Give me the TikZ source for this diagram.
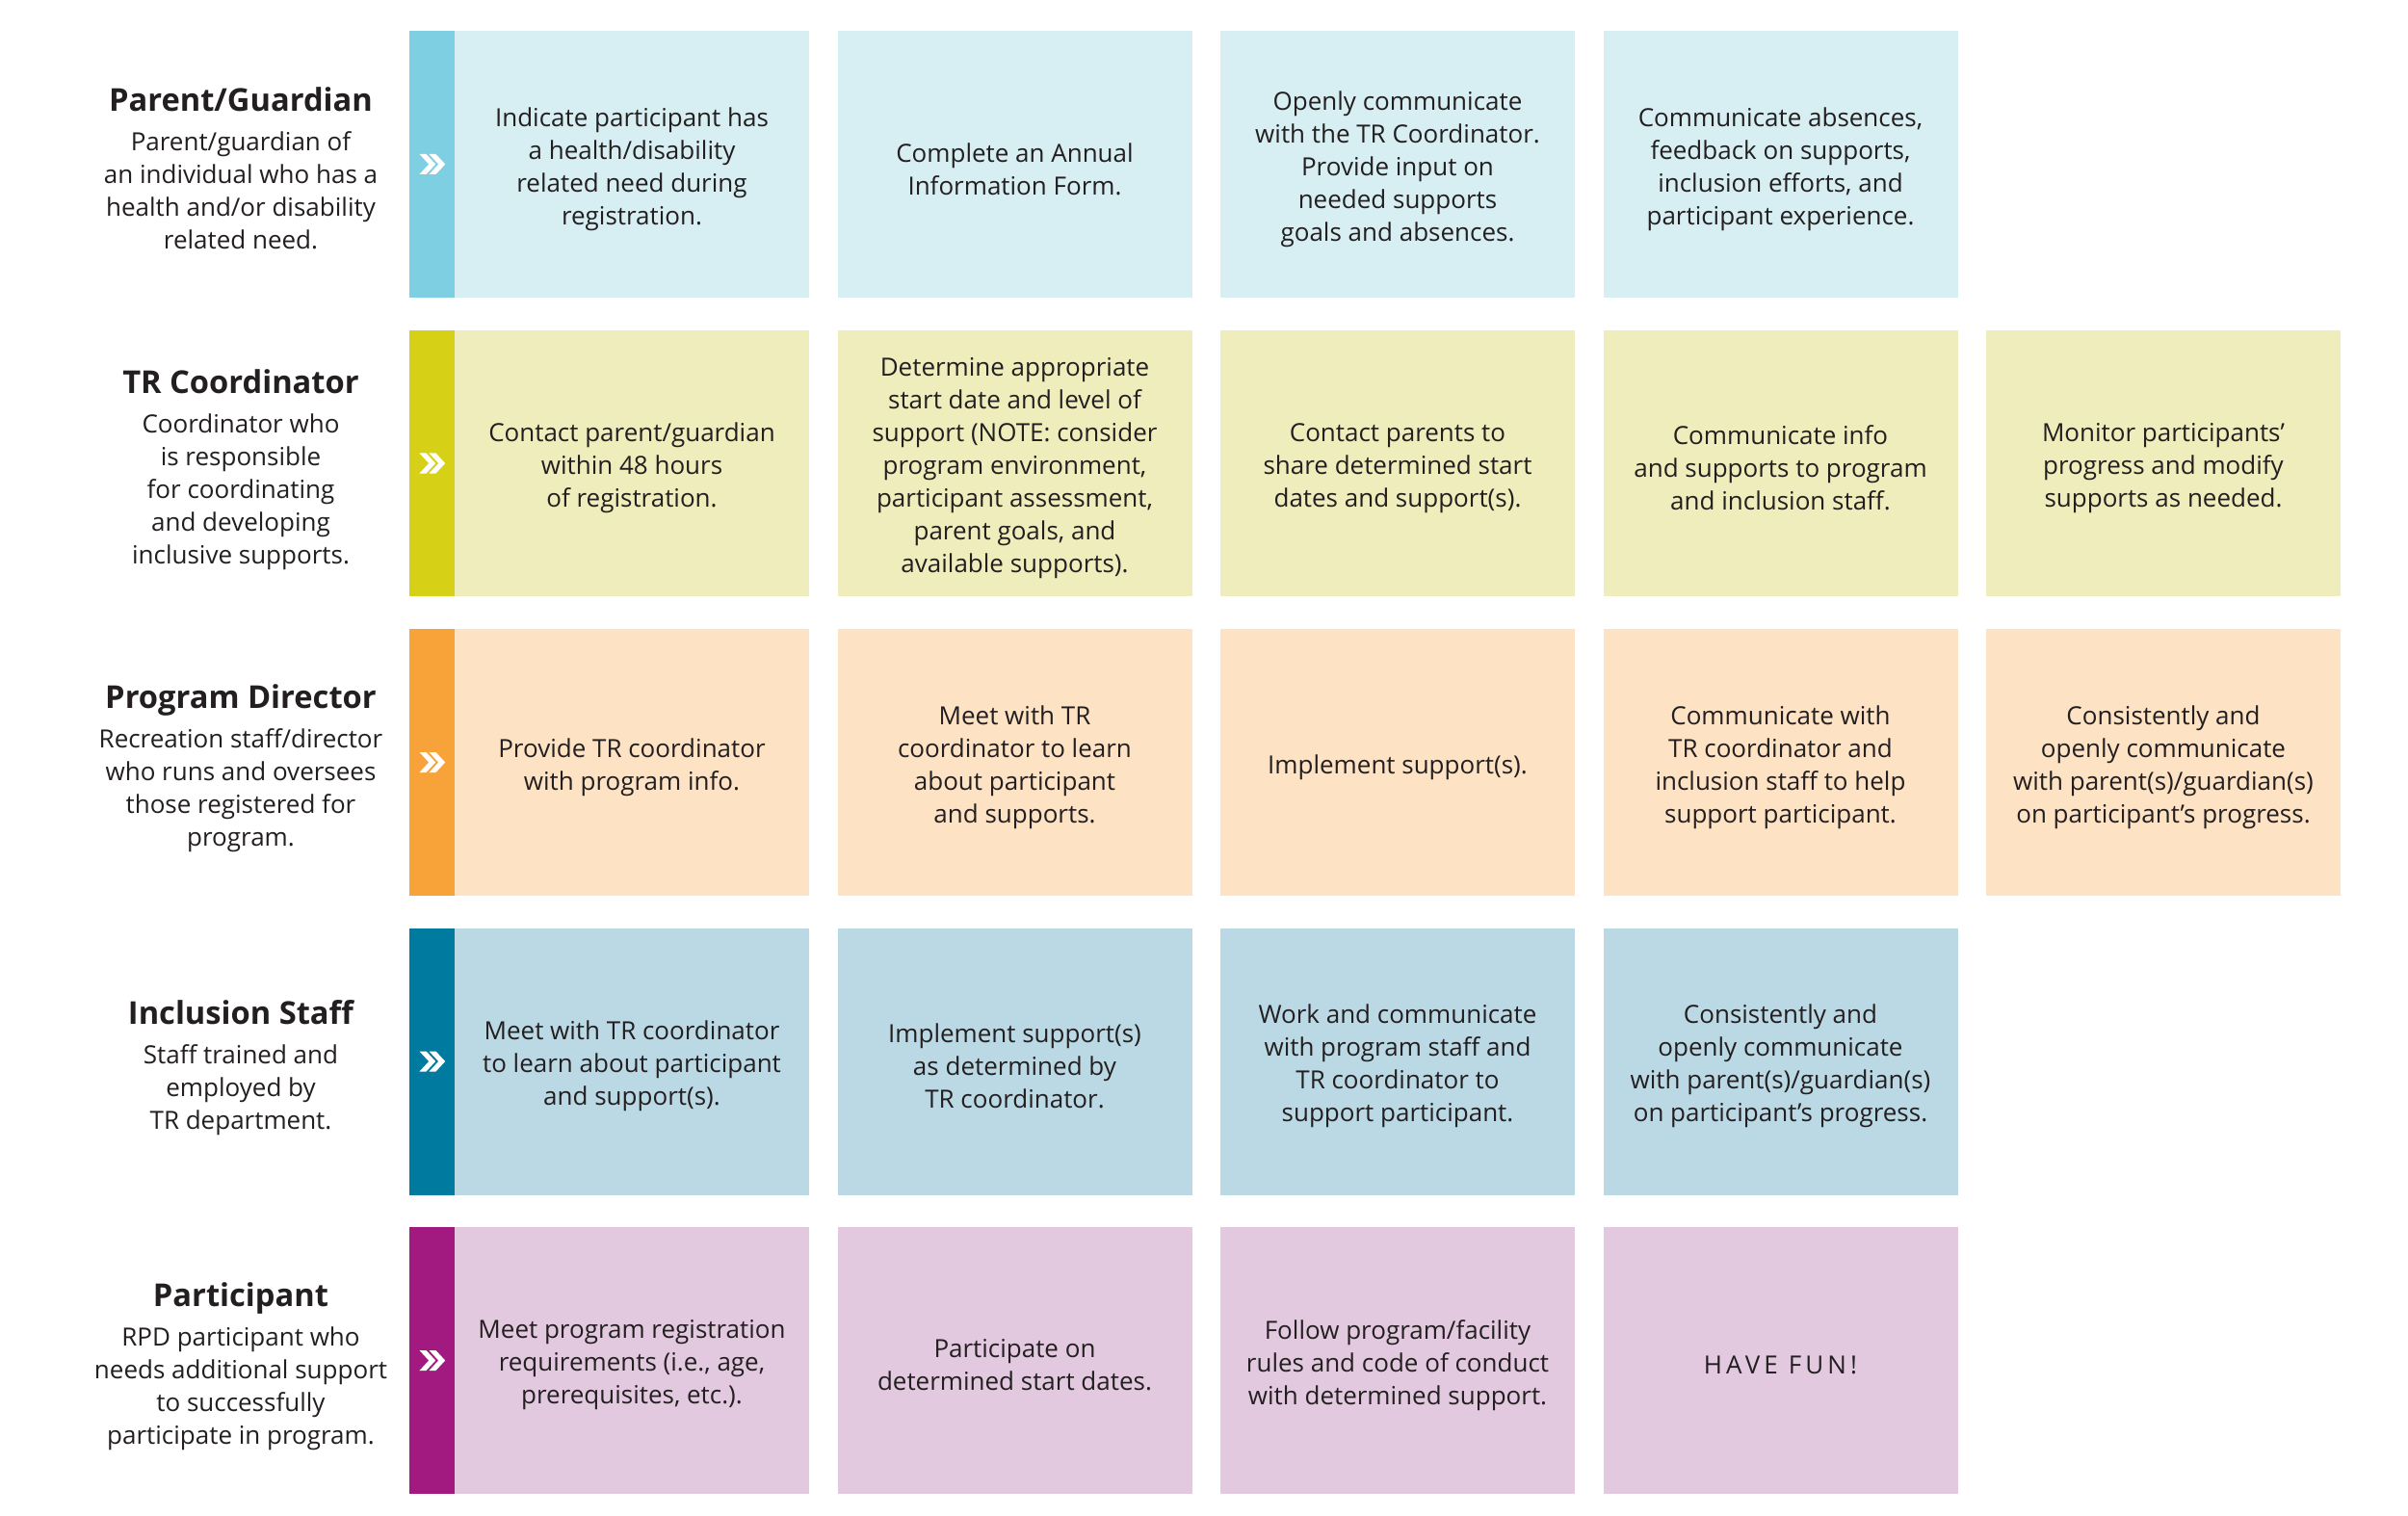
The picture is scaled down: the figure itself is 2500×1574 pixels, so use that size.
\documentclass[tikz,border=0pt]{standalone}
\usepackage{fontspec}
\setmainfont{Open Sans}
\definecolor{txt}{HTML}{231F20}
\definecolor{sA}{HTML}{7FCFE2}\definecolor{bA}{HTML}{D7EFF3}
\definecolor{sB}{HTML}{D6D116}\definecolor{bB}{HTML}{EEEDBB}
\definecolor{sC}{HTML}{F8A23A}\definecolor{bC}{HTML}{FDE2C4}
\definecolor{sD}{HTML}{007A9E}\definecolor{bD}{HTML}{BBD9E5}
\definecolor{sE}{HTML}{A21A80}\definecolor{bE}{HTML}{E2C9DF}
\newcommand{\chevs}[1]{%
  \fill[white,shift={(#1)}] (-13,-10.5) -- (-6,-10.5) -- (3.7,0) -- (-6,10.5) -- (-13,10.5) -- (-3.3,0) -- cycle;
  \fill[white,shift={(#1)}] (-3,-10.5) -- (4,-10.5) -- (13.7,0) -- (4,10.5) -- (-3,10.5) -- (6.7,0) -- cycle;}
\newcommand{\ttl}[1]{{\fontsize{9.8}{12}\selectfont\bfseries #1}}
\begin{document}
\begin{tikzpicture}[x=0.3pt,y=-0.3pt,
  box/.style={inner sep=0pt,minimum width=110.4pt,minimum height=83.1pt,align=center,text=txt,
    font=\fontsize{7.8}{10.2}\selectfont},
  boxtext/.style={align=center,text=txt,inner sep=0pt,font=\fontsize{7.8}{10.2}\selectfont},
  stripe/.style={inner sep=0pt,minimum width=14.1pt,minimum height=83.1pt},
  label/.style={align=center,text=txt,inner sep=0pt,font=\fontsize{7.8}{10.2}\selectfont}]
\useasboundingbox (0,0) rectangle (2500,1574);
\fill[white] (0,0) rectangle (2500,1574);

% ---------- Row 1: Parent/Guardian ----------
\node[label] (l1) at (250,174.5) {\ttl{Parent/Guardian}\\[2pt]
Parent/guardian of\\an individual who has a\\health and/or disability\\related need.};
\node[stripe,fill=sA] (s1) at (448.5,170.5) {};
\chevs{s1.center}
\node[box,fill=bA] (b11) at (656,170.5) {};
\node[boxtext] at ([yshift=-1.5pt]b11.center) {Indicate participant has\\a health/disability\\related need during\\registration.};
\node[box,fill=bA] (b12) at (1053.5,170.5) {};
\node[boxtext] at ([yshift=-1.5pt]b12.center) {Complete an Annual\\Information Form.};
\node[box,fill=bA] (b13) at (1451,170.5) {};
\node[boxtext] at ([yshift=-1.5pt]b13.center) {Openly communicate\\with the TR Coordinator.\\Provide input on\\needed supports\\goals and absences.};
\node[box,fill=bA] (b14) at (1848.5,170.5) {};
\node[boxtext] at ([yshift=-1.5pt]b14.center) {Communicate absences,\\feedback on supports,\\inclusion efforts, and\\participant experience.};

% ---------- Row 2: TR Coordinator ----------
\node[label] (l2) at (250,487.5) {\ttl{TR Coordinator}\\[2pt]
Coordinator who\\is responsible\\for coordinating\\and developing\\inclusive supports.};
\node[stripe,fill=sB] (s2) at (448.5,481) {};
\chevs{s2.center}
\node[box,fill=bB] (b21) at (656,481) {};
\node[boxtext] at ([yshift=-1.5pt]b21.center) {Contact parent/guardian\\within 48 hours\\of registration.};
\node[box,fill=bB] (b22) at (1053.5,481) {};
\node[boxtext] at ([yshift=-1.5pt]b22.center) {Determine appropriate\\start date and level of\\support (NOTE: consider\\program environment,\\participant assessment,\\parent goals, and\\available supports).};
\node[box,fill=bB] (b23) at (1451,481) {};
\node[boxtext] at ([yshift=-1.5pt]b23.center) {Contact parents to\\share determined start\\dates and support(s).};
\node[box,fill=bB] (b24) at (1848.5,481) {};
\node[boxtext] at ([yshift=-1.5pt]b24.center) {Communicate info\\and supports to program\\and inclusion staff.};
\node[box,fill=bB] (b25) at (2246,481) {};
\node[boxtext] at ([yshift=-1.5pt]b25.center) {Monitor participants’\\progress and modify\\supports as needed.};

% ---------- Row 3: Program Director ----------
\node[label] (l3) at (250,798) {\ttl{Program Director}\\[2pt]
Recreation staff/director\\who runs and oversees\\those registered for\\program.};
\node[stripe,fill=sC] (s3) at (448.5,791.5) {};
\chevs{s3.center}
\node[box,fill=bC] (b31) at (656,791.5) {};
\node[boxtext] at ([yshift=-1.5pt]b31.center) {Provide TR coordinator\\with program info.};
\node[box,fill=bC] (b32) at (1053.5,791.5) {};
\node[boxtext] at ([yshift=-1.5pt]b32.center) {Meet with TR\\coordinator to learn\\about participant\\and supports.};
\node[box,fill=bC] (b33) at (1451,791.5) {};
\node[boxtext] at ([yshift=-1.5pt]b33.center) {Implement support(s).};
\node[box,fill=bC] (b34) at (1848.5,791.5) {};
\node[boxtext] at ([yshift=-1.5pt]b34.center) {Communicate with\\TR coordinator and\\inclusion staff to help\\support participant.};
\node[box,fill=bC] (b35) at (2246,791.5) {};
\node[boxtext] at ([yshift=-1.5pt]b35.center) {Consistently and\\openly communicate\\with parent(s)/guardian(s)\\on participant’s progress.};

% ---------- Row 4: Inclusion Staff ----------
\node[label] (l4) at (250,1108.5) {\ttl{Inclusion Staff}\\[2pt]
Staff trained and\\employed by\\TR department.};
\node[stripe,fill=sD] (s4) at (448.5,1102) {};
\chevs{s4.center}
\node[box,fill=bD] (b41) at (656,1102) {};
\node[boxtext] at ([yshift=-1.5pt]b41.center) {Meet with TR coordinator\\to learn about participant\\and support(s).};
\node[box,fill=bD] (b42) at (1053.5,1102) {};
\node[boxtext] at ([yshift=-1.5pt]b42.center) {Implement support(s)\\as determined by\\TR coordinator.};
\node[box,fill=bD] (b43) at (1451,1102) {};
\node[boxtext] at ([yshift=-1.5pt]b43.center) {Work and communicate\\with program staff and\\TR coordinator to\\support participant.};
\node[box,fill=bD] (b44) at (1848.5,1102) {};
\node[boxtext] at ([yshift=-1.5pt]b44.center) {Consistently and\\openly communicate\\with parent(s)/guardian(s)\\on participant’s progress.};

% ---------- Row 5: Participant ----------
\node[label] (l5) at (250,1419) {\ttl{Participant}\\[2pt]
RPD participant who\\needs additional support\\to successfully\\participate in program.};
\node[stripe,fill=sE] (s5) at (448.5,1412.5) {};
\chevs{s5.center}
\node[box,fill=bE] (b51) at (656,1412.5) {};
\node[boxtext] at ([yshift=-1.5pt]b51.center) {Meet program registration\\requirements (i.e., age,\\prerequisites, etc.).};
\node[box,fill=bE] (b52) at (1053.5,1412.5) {};
\node[boxtext] at ([yshift=-1.5pt]b52.center) {Participate on\\determined start dates.};
\node[box,fill=bE] (b53) at (1451,1412.5) {};
\node[boxtext] at ([yshift=-1.5pt]b53.center) {Follow program/facility\\rules and code of conduct\\with determined support.};
\node[box,fill=bE] (b54) at (1848.5,1412.5) {};
\node[boxtext] at ([yshift=-1.5pt]b54.center) {\addfontfeature{LetterSpace=16}HAVE FUN!};
\end{tikzpicture}
\end{document}
